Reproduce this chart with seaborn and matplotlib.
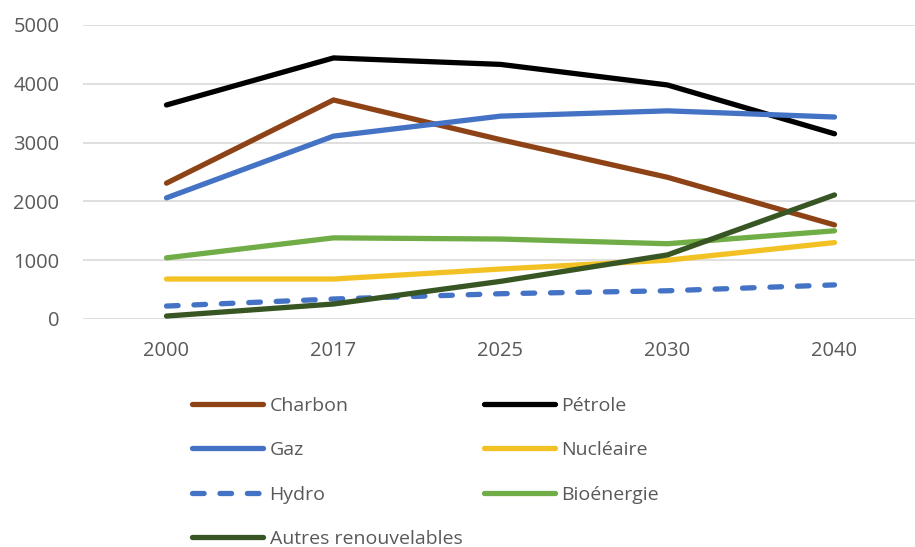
import matplotlib
matplotlib.use("Agg")
import matplotlib.pyplot as plt
import seaborn as sns
import pandas as pd

years = ["2000", "2017", "2025", "2030", "2040"]
sources = ["Charbon", "Pétrole", "Gaz", "Nucléaire", "Hydro", "Bioénergie", "Autres renouvelables"]

charbon = [2310, 3725, 3050, 2410, 1600]
petrole = [3640, 4440, 4330, 3980, 3150]
gaz = [2060, 3110, 3450, 3540, 3435]
nucleaire = [680, 680, 850, 1000, 1300]
hydro = [220, 340, 430, 480, 580]
bioenergie = [1040, 1380, 1360, 1280, 1500]
autres = [50, 255, 640, 1090, 2110]

series = [charbon, petrole, gaz, nucleaire, hydro, bioenergie, autres]

colors = ["#8E4316", "#000000", "#4472C4", "#F2C224", "#4472C4", "#70AD47", "#375623"]

rows = []
for name, vals in zip(sources, series):
    for i, v in enumerate(vals):
        rows.append({"pos": i, "source": name, "value": v})
df = pd.DataFrame(rows)

sns.set_theme(style="white")
plt.rcParams["font.family"] = ["Open Sans", "DejaVu Sans"]

fig = plt.figure(figsize=(9.15, 5.47), dpi=100)
ax = fig.add_axes([83 / 915, 1 - 319 / 547, 835 / 915, 294 / 547])

dash_map = {s: "" for s in sources}
dash_map["Hydro"] = (2.2, 3.0)
sns.lineplot(data=df, x="pos", y="value", hue="source", style="source",
             hue_order=sources, style_order=sources,
             palette=dict(zip(sources, colors)), dashes=dash_map,
             linewidth=3.8, sort=False, ax=ax)

for line in ax.get_lines():
    line.set_dash_capstyle("round")
    line.set_solid_capstyle("round")
    line.set_solid_joinstyle("round")

ax.set_xlim(-0.5, 4.5)
ax.set_ylim(0, 5000)
ax.set_yticks(range(0, 5001, 1000))
ax.set_xticks(range(len(years)))
ax.set_xticklabels(years)
ax.set_xlabel("")
ax.set_ylabel("")
ax.grid(axis="y", color="#D9D9D9", linewidth=1.2)
ax.set_axisbelow(True)
for sp in ax.spines.values():
    sp.set_visible(False)
ax.tick_params(axis="y", length=0, pad=17, labelsize=14.5, labelcolor="#595959")
ax.tick_params(axis="x", length=0, pad=16, labelsize=14.5, labelcolor="#595959")

handles, labels = ax.get_legend_handles_labels()
ax.get_legend().remove()
hmap = dict(zip(labels, handles))
for h in hmap.values():
    h.set_linewidth(3.8)
    h.set_dash_capstyle("round")
    h.set_solid_capstyle("round")
order = ["Charbon", "Gaz", "Hydro", "Autres renouvelables", "Pétrole", "Nucléaire", "Bioénergie"]
leg = fig.legend([hmap[k] for k in order], order, ncol=2, frameon=False,
                 loc="upper left", bbox_to_anchor=(184 / 915, 1 - 389 / 547),
                 fontsize=14, handlelength=3.65, handletextpad=0.35,
                 labelspacing=1.36, columnspacing=1.1, borderaxespad=0)
for t in leg.get_texts():
    t.set_color("#595959")

fig.savefig("out.png", dpi=100)
